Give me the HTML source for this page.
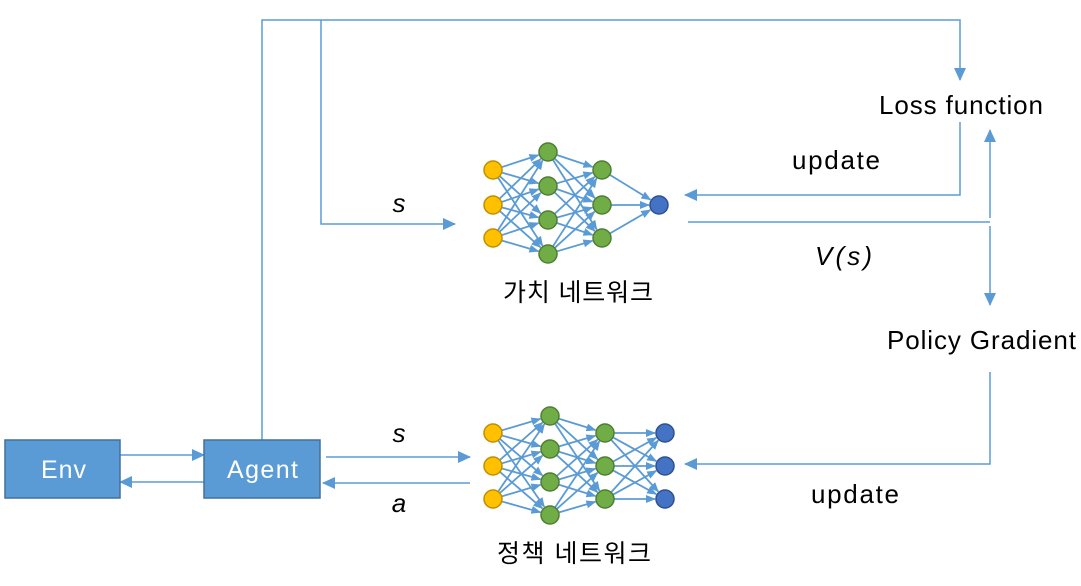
<!DOCTYPE html>
<html><head><meta charset="utf-8"><style>
html,body{margin:0;padding:0;background:#fff;width:1081px;height:586px;overflow:hidden}
text{font-family:"Liberation Sans","Noto Sans CJK KR",sans-serif}
</style></head><body>
<svg id="s" width="1081" height="586" viewBox="0 0 1081 586" xmlns="http://www.w3.org/2000/svg">
<defs>
<marker id="ah" markerWidth="10" markerHeight="8" refX="9" refY="4" orient="auto" markerUnits="userSpaceOnUse">
<path d="M0,0 L10,4 L0,8 z" fill="#5b9bd5"/></marker>
<marker id="ah2" markerWidth="14" markerHeight="12" refX="12" refY="6" orient="auto" markerUnits="userSpaceOnUse">
<path d="M0,0 L13,6 L0,12 z" fill="#5b9bd5"/></marker>
</defs>
<g stroke="#5b9bd5" stroke-width="1.5" fill="none">
<polyline points="262,440 262,20 960,20 960,80" marker-end="url(#ah2)"/>
<polyline points="321,20 321,224 455,224" marker-end="url(#ah2)"/>
<polyline points="960,122 960,195 685,195" marker-end="url(#ah2)"/>
<line x1="688" y1="222" x2="990" y2="222"/>
<line x1="990" y1="218" x2="990" y2="130" marker-end="url(#ah2)"/>
<line x1="990" y1="226" x2="990" y2="305" marker-end="url(#ah2)"/>
<polyline points="990,372 990,464 685,464" marker-end="url(#ah2)"/>
<line x1="326" y1="457" x2="470" y2="457" marker-end="url(#ah2)"/>
<line x1="470" y1="483" x2="323" y2="483" marker-end="url(#ah2)"/>
<line x1="120" y1="455" x2="204" y2="455" marker-end="url(#ah2)"/>
<line x1="204" y1="482" x2="120" y2="482" marker-end="url(#ah2)"/>
</g>
<g id="edges" stroke="#5b9bd5" stroke-width="1.8" fill="none"></g>
<g id="nodes" stroke-width="1.5"></g>
<rect x="5" y="440" width="115" height="58" fill="#5b9bd5" stroke="#41719c" stroke-width="1.5"/>
<rect x="204" y="440" width="116" height="58" fill="#5b9bd5" stroke="#41719c" stroke-width="1.5"/>
<text x="41" y="478" font-size="25" fill="#fff" textLength="45">Env</text>
<text x="227" y="478" font-size="25" fill="#fff" textLength="71">Agent</text>
<text x="879" y="114" font-size="26" textLength="164">Loss function</text>
<text x="792" y="169" font-size="26" textLength="88">update</text>
<text x="887" y="349" font-size="26" textLength="189">Policy Gradient</text>
<text x="811" y="503" font-size="26" textLength="88">update</text>
<text x="815" y="265" font-size="26" font-style="italic" font-family="Liberation Serif,serif" textLength="57">V(s)</text>
<text x="399" y="212" font-size="26" font-style="italic" font-family="Liberation Serif,serif" text-anchor="middle">s</text>
<text x="399" y="442" font-size="26" font-style="italic" font-family="Liberation Serif,serif" text-anchor="middle">s</text>
<text x="399" y="512" font-size="26" font-style="italic" font-family="Liberation Serif,serif" text-anchor="middle">a</text>
<text x="503" y="301" font-size="25" textLength="150">가치 네트워크</text>
<text x="497" y="562" font-size="25" textLength="154">정책 네트워크</text>
</svg>
<script>
var NS="http://www.w3.org/2000/svg";
var E=document.getElementById("edges"),N=document.getElementById("nodes");
function col(x,ys){return ys.map(function(y){return [x,y]})}
function net(layers,colors){
 for(var i=0;i<layers.length-1;i++){
  layers[i].forEach(function(a){layers[i+1].forEach(function(b){
   var dx=b[0]-a[0],dy=b[1]-a[1],d=Math.sqrt(dx*dx+dy*dy);
   var l=document.createElementNS(NS,"line");
   l.setAttribute("x1",a[0]+dx/d*9);l.setAttribute("y1",a[1]+dy/d*9);
   l.setAttribute("x2",b[0]-dx/d*10);l.setAttribute("y2",b[1]-dy/d*10);
   l.setAttribute("marker-end","url(#ah)");E.appendChild(l);});});
 }
 layers.forEach(function(L,i){L.forEach(function(p){
  var c=document.createElementNS(NS,"circle");
  c.setAttribute("cx",p[0]);c.setAttribute("cy",p[1]);c.setAttribute("r",9);
  c.setAttribute("fill",colors[i][0]);c.setAttribute("stroke",colors[i][1]);N.appendChild(c);});});
}
var Y=["#ffc000","#bf9000"],G=["#70ad47","#507e32"],B=["#4472c4","#2f528f"];
net([col(493,[170,205,238]),col(548,[152,186,220,254]),col(602,[170,205,238]),col(659,[205])],[Y,G,G,B]);
net([col(493,[433,466,499]),col(550,[416,449,482,515]),col(605,[433,466,499]),col(665,[433,466,499])],[Y,G,G,B]);
</script>
</body></html>
